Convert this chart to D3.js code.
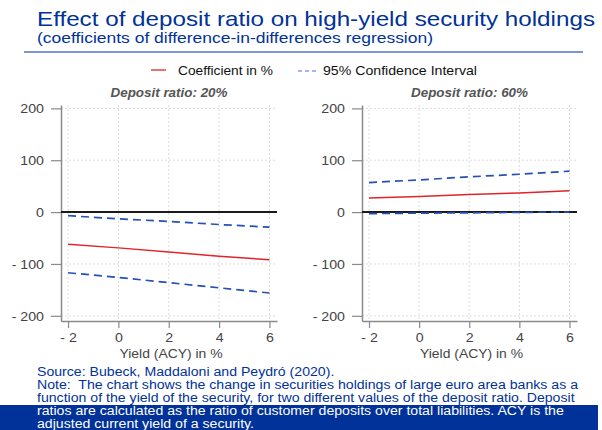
<!DOCTYPE html>
<html><head><meta charset="utf-8">
<script src="https://cdn.jsdelivr.net/npm/d3@7"></script>
<style>body{margin:0;background:#fff}svg{display:block;font-family:"Liberation Sans",Arial,sans-serif}</style>
</head><body><svg id="c" width="602" height="430"></svg>
<script>
const title = "Effect of deposit ratio on high-yield security holdings";
const subtitle = "(coefficients of difference-in-differences regression)";
const legendLabels = ["Coefficient in %", "95% Confidence Interval"];
const panelTitles = ["Deposit ratio: 20%", "Deposit ratio: 60%"];
const xLabel = "Yield (ACY) in %";
const xTicks = [-2, 0, 2, 4, 6];
const yTicks = [-200, -100, 0, 100, 200];
const yields = [-2, 0, 2, 4, 6];
const coef20 = [-62, -69, -77, -85, -92];
const upper20 = [-7, -13, -18, -24, -29];
const lower20 = [-117, -126, -136, -146, -156];
const coef60 = [27, 30, 34, 37, 41];
const upper60 = [57, 62, 68, 73, 79];
const lower60 = [-3, -2, -1.5, -0.5, 0];
const footerBlue = [
  "Source: Bubeck, Maddaloni and Peydró (2020).",
  "Note:\u00a0 The chart shows the change in securities holdings of large euro area banks as a",
  "function of the yield of the security, for two different values of the deposit ratio. Deposit"
];
const footerWhite = [
  "ratios are calculated as the ratio of customer deposits over total liabilities. ACY is the",
  "adjusted current yield of a security."
];

const BLUE = "#003299", RED = "#e0242a", CI = "#2450b8";
const svg = d3.select("#c");

// stretch a text horizontally by factor k
function stretch(sel, k) {
  sel.each(function () {
    const w = this.getComputedTextLength();
    d3.select(this).attr("textLength", w * k).attr("lengthAdjust", "spacingAndGlyphs");
  });
}
function fitTo(sel, width) {
  sel.attr("textLength", width).attr("lengthAdjust", "spacingAndGlyphs");
}

fitTo(svg.append("text").attr("x", 37).attr("y", 26).attr("fill", BLUE)
  .style("font-size", "21px").text(title), 558);
fitTo(svg.append("text").attr("x", 37).attr("y", 43).attr("fill", BLUE)
  .style("font-size", "14.5px").text(subtitle), 396);
svg.append("line").attr("x1", 24).attr("x2", 583).attr("y1", 52).attr("y2", 52)
  .attr("stroke", BLUE).attr("stroke-width", 1.2);

// legend
const lg = svg.append("g");
lg.append("line").attr("x1", 151).attr("x2", 166).attr("y1", 70).attr("y2", 70)
  .attr("stroke", RED).attr("stroke-width", 1.3);
fitTo(lg.append("text").attr("x", 178).attr("y", 74.5).style("font-size", "13px").attr("fill", "#111").text(legendLabels[0]), 95);
lg.append("line").attr("x1", 298).attr("x2", 318).attr("y1", 71).attr("y2", 71)
  .attr("stroke", "#5060ff").attr("stroke-width", 1).attr("stroke-dasharray", "4,3");
fitTo(lg.append("text").attr("x", 323).attr("y", 75).style("font-size", "13px").attr("fill", "#111").text(legendLabels[1]), 154);

const fmt = d => d < 0 ? "- " + Math.abs(d) : String(d);
const y = d3.scaleLinear().domain([-210, 206.5]).range([321, 105]);

const panels = [
  {left: 61, right: 277, title: panelTitles[0], coef: coef20, up: upper20, lo: lower20},
  {left: 362, right: 577, title: panelTitles[1], coef: coef60, up: upper60, lo: lower60}
];

panels.forEach(p => {
  const x = d3.scaleLinear().domain([-2.28, 6.3]).range([p.left, p.right]);
  const g = svg.append("g");
  // grid
  g.selectAll(".vg").data(xTicks).join("line")
    .attr("x1", d => x(d)).attr("x2", d => x(d)).attr("y1", y.range()[1]).attr("y2", y.range()[0])
    .attr("stroke", "#dcdcdc").attr("stroke-width", 1).attr("stroke-dasharray", "2,2");
  g.selectAll(".hg").data(yTicks.filter(d => d !== 0)).join("line")
    .attr("x1", p.left).attr("x2", p.right).attr("y1", d => y(d)).attr("y2", d => y(d))
    .attr("stroke", "#dcdcdc").attr("stroke-width", 1).attr("stroke-dasharray", "2,2");
  // axes
  const ya = g.append("g").attr("transform", `translate(${p.left},0)`)
    .call(d3.axisLeft(y).tickValues(yTicks).tickFormat(fmt).tickSize(10).tickPadding(7).tickSizeOuter(0));
  const xa = g.append("g").attr("transform", `translate(0,${y.range()[0]})`)
    .call(d3.axisBottom(x).tickValues(xTicks).tickFormat(fmt).tickSize(7).tickPadding(4).tickSizeOuter(0));
  [ya, xa].forEach(a => {
    a.select(".domain").attr("stroke", "#8a8a8a").attr("stroke-width", 1.5);
    a.selectAll(".tick line").attr("stroke", "#8a8a8a").attr("stroke-width", 1.2);
    a.selectAll(".tick text").attr("fill", "#444").style("font-size", "13.5px")
      .style("font-family", "'Liberation Sans',Arial,sans-serif");
  });
  stretch(ya.selectAll(".tick text"), 1.05);
  stretch(xa.selectAll(".tick text"), 1.05);
  // zero line
  g.append("line").attr("x1", p.left).attr("x2", p.right).attr("y1", y(0)).attr("y2", y(0))
    .attr("stroke", "#1a1a1a").attr("stroke-width", 2);
  const line = d3.line().x((d, i) => x(yields[i])).y(d => y(d));
  g.append("path").datum(p.up).attr("d", line).attr("fill", "none")
    .attr("stroke", CI).attr("stroke-width", 1.7).attr("stroke-dasharray", "8,5");
  g.append("path").datum(p.lo).attr("d", line).attr("fill", "none")
    .attr("stroke", CI).attr("stroke-width", 1.7).attr("stroke-dasharray", "8,5");
  g.append("path").datum(p.coef).attr("d", line).attr("fill", "none")
    .attr("stroke", RED).attr("stroke-width", 1.5);
  // titles
  const cx = (p.left + p.right) / 2;
  fitTo(g.append("text").attr("x", cx - 58.5).attr("y", 97)
    .style("font-size", "12.5px").style("font-weight", "bold").style("font-style", "italic")
    .attr("fill", "#555").text(p.title), 117);
  fitTo(g.append("text").attr("x", cx - 51.5 + 2).attr("y", 358)
    .style("font-size", "13.5px").attr("fill", "#444").text(xLabel), 103);
});

// footer
svg.append("rect").attr("x", 0).attr("y", 405).attr("width", 598).attr("height", 25).attr("fill", BLUE);
const ft = svg.append("g").style("font-size", "12px");
const blueT = ft.selectAll(".fb").data(footerBlue).join("text")
  .attr("x", 37).attr("y", (d, i) => 376 + i * 13).attr("fill", BLUE).text(d => d);
const whiteT = ft.selectAll(".fw").data(footerWhite).join("text")
  .attr("x", 37).attr("y", (d, i) => 415 + i * 13).attr("fill", "#fff").text(d => d);
const noteNode = blueT.nodes()[1];
const k = 541 / noteNode.getComputedTextLength();
stretch(blueT, k);
stretch(whiteT, k);
</script></body></html>
